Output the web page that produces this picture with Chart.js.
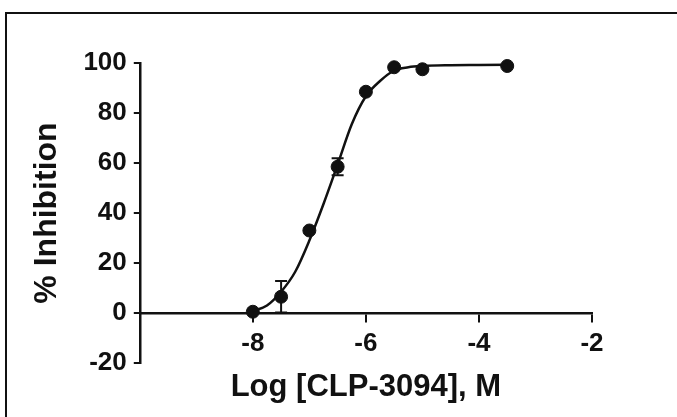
<!DOCTYPE html>
<html>
<head>
<meta charset="utf-8">
<script src="https://cdn.jsdelivr.net/npm/chart.js@4.4.1/dist/chart.umd.min.js"></script>
<style>
    html, body { margin: 0; padding: 0; background: #fff; }
    #wrap { position: relative; width: 677px; height: 417px; overflow: hidden; }
    #frame {
        position: absolute; left: 5px; top: 12px; width: 700px; height: 420px;
        border-left: 2px solid #111; border-top: 2px solid #111;
        pointer-events: none;
    }
</style>
</head>
<body>
<div id="wrap">
    <canvas id="doseChart" width="677" height="417"></canvas>
    <div id="frame"></div>
</div>
<script>
// Measured points (log concentration, % inhibition, SEM)
const logConc = [-8, -7.5, -7, -6.5, -6, -5.5, -5, -3.5];
const inhibition = [0.5, 6.5, 33, 58.5, 88.5, 98.3, 97.5, 98.8];
const sem = [0, 6.3, 0, 3.4, 0, 0, 0, 0];

// Fitted curve
const curveX = [-8, -7.75, -7.5, -7.25, -7, -6.75, -6.5, -6.25, -6, -5.75, -5.5, -5.25, -5, -4.5, -4, -3.5];
const curveY = [0.8, 3, 8.5, 16.5, 29, 43.6, 59.4, 75.5, 86.7, 92.8, 97, 98.3, 98.8, 99.1, 99.2, 99.3];

const xTicks = [-8, -6, -4, -2];
const yTicks = [-20, 0, 20, 40, 60, 80, 100];

const ink = '#111';
const fontFamily = "'Liberation Sans', Arial, sans-serif";

// Error bars drawn through the chart scales
const errorBars = {
    id: 'errorBars',
    afterDatasetsDraw(chart) {
        const { ctx, scales: { x, y } } = chart;
        ctx.save();
        ctx.strokeStyle = ink;
        ctx.lineWidth = 2;
        logConc.forEach((lc, i) => {
            if (!sem[i]) return;
            const px = x.getPixelForValue(lc);
            const top = y.getPixelForValue(inhibition[i] + sem[i]);
            const bot = y.getPixelForValue(inhibition[i] - sem[i]);
            ctx.beginPath();
            ctx.moveTo(px, top); ctx.lineTo(px, bot);
            ctx.moveTo(px - 6, top); ctx.lineTo(px + 6, top);
            ctx.moveTo(px - 6, bot); ctx.lineTo(px + 6, bot);
            ctx.stroke();
        });
        ctx.restore();
    }
};

const ctx = document.getElementById('doseChart').getContext('2d');
const doseChart = new Chart(ctx, {
    type: 'scatter',
    data: {
        datasets: [{
            type: 'line',
            data: curveX.map((v, i) => ({ x: v, y: curveY[i] })),
            borderColor: ink,
            borderWidth: 2.5,
            pointRadius: 0,
            cubicInterpolationMode: 'monotone',
            fill: false,
            clip: false
        }, {
            data: logConc.map((v, i) => ({ x: v, y: inhibition[i] })),
            backgroundColor: ink,
            borderColor: ink,
            pointRadius: 6.5,
            clip: false
        }]
    },
    options: {
        responsive: false,
        animation: false,
        layout: {
            padding: { left: 22, right: 85, top: 63, bottom: 54 }
        },
        plugins: {
            legend: { display: false },
            tooltip: { enabled: false }
        },
        scales: {
            x: {
                type: 'linear',
                position: { y: 0 },
                min: -10,
                max: -2,
                afterBuildTicks: axis => {
                    axis.ticks = [-10].concat(xTicks).map(v => ({ value: v }));
                },
                grid: {
                    display: true,
                    drawOnChartArea: false,
                    drawTicks: true,
                    tickLength: 8,
                    color: ink,
                    lineWidth: 2
                },
                border: { display: true, color: ink, width: 2.5 },
                ticks: {
                    color: ink,
                    padding: 7,
                    maxRotation: 0,
                    font: { family: fontFamily, size: 26, weight: 'bold' },
                    callback: v => (v === -10 ? '' : v)
                },
                title: {
                    display: true,
                    text: 'Log [CLP-3094], M',
                    color: ink,
                    padding: { top: 3, bottom: 0 },
                    font: { family: fontFamily, size: 31, weight: 'bold' }
                }
            },
            y: {
                min: -20,
                max: 100,
                afterBuildTicks: axis => {
                    axis.ticks = yTicks.map(v => ({ value: v }));
                },
                grid: {
                    display: true,
                    drawOnChartArea: false,
                    drawTicks: true,
                    tickLength: 6,
                    color: ink,
                    lineWidth: 2
                },
                border: { display: true, color: ink, width: 2.5 },
                ticks: {
                    color: ink,
                    padding: 7,
                    font: { family: fontFamily, size: 26, weight: 'bold' }
                },
                title: {
                    display: true,
                    text: '% Inhibition',
                    color: ink,
                    padding: { top: 6, bottom: 10 },
                    font: { family: fontFamily, size: 32, weight: 'bold' }
                }
            }
        }
    },
    plugins: [errorBars]
});
</script>
</body>
</html>
